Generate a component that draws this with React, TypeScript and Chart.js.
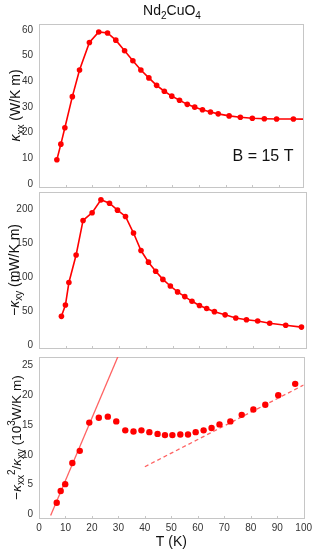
import React, { useEffect, useRef } from 'react';
import { Chart, registerables } from 'chart.js';

Chart.register(...registerables);

const FONT = '"Liberation Sans", Arial, Helvetica, sans-serif';

// ---- data ----
const xTicks = [0, 10, 20, 30, 40, 50, 60, 70, 80, 90, 100];

const kxxT = [6.7, 8.2, 9.7, 12.5, 15.2, 18.9, 22.4, 25.7, 28.8, 32.1, 35.2, 38.2, 41.2, 44.1, 47.0, 49.8, 52.7, 55.6, 58.4, 61.3, 64.3, 67.2, 71.3, 75.5, 80.0, 84.5, 89.1, 95.4, 101];
const kxx = [9.4, 15.5, 21.9, 34.0, 44.4, 55.1, 59.2, 58.8, 56.0, 51.9, 48.0, 44.4, 41.3, 38.4, 36.1, 34.2, 32.6, 31.0, 29.9, 28.9, 28.0, 27.3, 26.5, 26.0, 25.6, 25.4, 25.3, 25.3, 25.2];
const kxxTicks = [0, 10, 20, 30, 40, 50, 60];

const kxyT = [8.4, 9.9, 11.2, 13.9, 16.5, 19.9, 23.2, 26.4, 29.4, 32.4, 35.4, 38.2, 41.0, 43.7, 46.4, 49.2, 51.9, 54.6, 57.3, 60.1, 62.8, 65.7, 69.7, 73.7, 77.7, 81.9, 86.4, 92.4, 98.3];
const kxy = [43.1, 59.7, 92.8, 133.3, 184.0, 195.4, 214.3, 209.3, 199.1, 189.9, 165.5, 139.8, 122.7, 109.4, 97.4, 87.7, 79.0, 72.1, 65.2, 59.1, 54.6, 50.0, 45.3, 40.7, 38.0, 36.2, 32.9, 30.1, 27.3];
const kxyTicks = [0, 50, 100, 150, 200];

const ratioT = [6.7, 8.2, 9.9, 12.6, 15.4, 19.0, 22.6, 26.0, 29.2, 32.6, 35.7, 38.7, 41.7, 44.8, 47.6, 50.4, 53.4, 56.3, 59.2, 62.2, 65.2, 68.2, 72.3, 76.6, 81.0, 85.5, 90.4, 96.8];
const ratio = [1.97, 3.93, 5.08, 8.62, 10.66, 15.4, 16.2, 16.4, 15.6, 14.1, 13.9, 14.1, 13.8, 13.5, 13.3, 13.3, 13.4, 13.4, 13.8, 14.1, 14.5, 15.1, 15.6, 16.7, 17.6, 18.4, 20.0, 21.9];
const ratioTicks = [0, 5, 10, 15, 20, 25];

const lowFitT = [4.4, 31];
const lowFit = [-0.2, 27.7];
const highFitT = [40, 100];
const highFit = [8.0, 21.7];

const titleText = [{ t: 'Nd' }, { t: '2', k: 'sub' }, { t: 'CuO' }, { t: '4', k: 'sub' }];
const fieldText = 'B = 15 T';
const fieldPos = { x: 84, y: 10.5 };
const xTitle = 'T (K)';
const yTitleTop = [{ t: 'κ', it: true }, { t: 'xx', k: 'sub' }, { t: ' (W/K m)' }];
const yTitleMid = [{ t: '−' }, { t: 'κ', it: true }, { t: 'xy', k: 'sub' }, { t: ' (mW/K m)' }];
const yTitleBot = [
  { t: '−' }, { t: 'κ', it: true }, { t: 'xx', k: 'sub' }, { t: '2', k: 'sup' }, { t: '/' },
  { t: 'κ', it: true }, { t: 'xy', k: 'sub' }, { t: ' (10' }, { t: '3', k: 'sup' }, { t: 'W/K m)' },
];

type Seg = { t: string; k?: string; it?: boolean };

function drawRich(ctx: CanvasRenderingContext2D, segs: Seg[], size: number, color: string) {
  const small = Math.round(size * 0.72);
  const fontFor = (s: Seg) => `${s.it ? 'italic ' : ''}${s.k ? small : size}px ${FONT}`;
  const widths = segs.map((s) => {
    ctx.font = fontFor(s);
    return ctx.measureText(s.t).width;
  });
  const total = widths.reduce((a, b) => a + b, 0);
  let x = -total / 2;
  ctx.fillStyle = color;
  ctx.textAlign = 'left';
  ctx.textBaseline = 'alphabetic';
  segs.forEach((s, i) => {
    ctx.font = fontFor(s);
    const dy = s.k === 'sub' ? size * 0.25 : s.k === 'sup' ? -size * 0.42 : 0;
    ctx.fillText(s.t, x, dy);
    x += widths[i];
  });
}

const pts = (xs: number[], ys: number[]) => xs.map((x, i) => ({ x, y: ys[i] }));

type Cfg = {
  datasets: any[];
  xMax: number;
  yMin: number;
  yMax: number;
  yTicks: number[];
  padTop: number;
  padRight: number;
  xAxisH: number;
  showX: boolean;
  yTitle: Seg[];
  yTitleSize: number;
  yTitleX: number;
  extra?: (chart: any) => void;
};

function makeChart(canvas: HTMLCanvasElement, c: Cfg) {
  const tickFont = { family: FONT, size: 10 };
  const framePlugin = {
    id: 'frame',
    beforeDatasetsDraw(chart: any) {
      const { ctx, chartArea: a } = chart;
      const xs = chart.scales.x;
      ctx.save();
      ctx.strokeStyle = '#c6c6c6';
      ctx.lineWidth = 1;
      ctx.strokeRect(Math.round(a.left) + 0.5, Math.round(a.top) + 0.5, Math.round(a.right - a.left), Math.round(a.bottom - a.top));
      ctx.beginPath();
      xTicks.forEach((v) => {
        if (v <= 0 || v >= c.xMax) return;
        const px = Math.round(xs.getPixelForValue(v)) + 0.5;
        ctx.moveTo(px, Math.round(a.bottom) + 0.5);
        ctx.lineTo(px, Math.round(a.bottom) - 2);
      });
      ctx.stroke();
      ctx.restore();
    },
    afterDraw(chart: any) {
      const { ctx, chartArea: a } = chart;
      ctx.save();
      ctx.translate(c.yTitleX, (a.top + a.bottom) / 2);
      ctx.rotate(-Math.PI / 2);
      drawRich(ctx, c.yTitle, c.yTitleSize, '#111');
      ctx.restore();
      if (c.extra) c.extra(chart);
    },
  };
  return new Chart(canvas, {
    type: 'scatter',
    data: { datasets: c.datasets },
    options: {
      animation: false,
      responsive: false,
      devicePixelRatio: 1,
      events: [],
      layout: { padding: { left: 0, right: c.padRight, top: c.padTop, bottom: 0 } },
      plugins: { legend: { display: false }, tooltip: { enabled: false } },
      scales: {
        x: {
          type: 'linear',
          min: 0,
          max: c.xMax,
          grid: { display: false, drawTicks: false },
          border: { display: false },
          ticks: { display: c.showX, font: tickFont, color: '#333', padding: 4, maxRotation: 0, autoSkip: false },
          afterBuildTicks: (s: any) => { s.ticks = xTicks.filter((v) => v <= c.xMax).map((v) => ({ value: v })); },
          afterFit: (s: any) => { s.height = c.xAxisH; },
        },
        y: {
          type: 'linear',
          min: c.yMin,
          max: c.yMax,
          grid: { display: false, drawTicks: false },
          border: { display: false },
          ticks: { font: tickFont, color: '#333', padding: 6 },
          afterBuildTicks: (s: any) => { s.ticks = c.yTicks.map((v) => ({ value: v })); },
          afterFit: (s: any) => { s.width = 39; },
        },
      },
    } as any,
    plugins: [framePlugin],
  });
}

const RED = '#ff0000';
const FIT = '#ff6363';

export default function App() {
  const r1 = useRef<HTMLCanvasElement>(null);
  const r2 = useRef<HTMLCanvasElement>(null);
  const r3 = useRef<HTMLCanvasElement>(null);

  useEffect(() => {
    const lineSet = (xs: number[], ys: number[], r: number) => ({
      data: pts(xs, ys),
      showLine: true,
      borderColor: RED,
      borderWidth: 1.6,
      backgroundColor: RED,
      pointRadius: r,
      pointBorderWidth: 0,
      pointBackgroundColor: RED,
      clip: 0,
    });

    const c1 = makeChart(r1.current!, {
      datasets: [lineSet(kxxT, kxx, 2.8)],
      xMax: 99,
      yMin: -1.2,
      yMax: 62.3,
      yTicks: kxxTicks,
      padTop: 24,
      padRight: 13,
      xAxisH: 13,
      showX: false,
      yTitle: yTitleTop,
      yTitleSize: 14,
      yTitleX: 20,
      extra: (chart: any) => {
        const { ctx, scales } = chart;
        ctx.save();
        ctx.translate(172, 15);
        drawRich(ctx, titleText, 14, '#111');
        ctx.restore();
        ctx.save();
        ctx.font = `16px ${FONT}`;
        ctx.fillStyle = '#111';
        ctx.textAlign = 'center';
        ctx.textBaseline = 'middle';
        ctx.fillText(fieldText, scales.x.getPixelForValue(fieldPos.x), scales.y.getPixelForValue(fieldPos.y));
        ctx.restore();
      },
    });

    const c2 = makeChart(r2.current!, {
      datasets: [lineSet(kxyT, kxy, 2.8)],
      xMax: 100,
      yMin: -3.4,
      yMax: 225.8,
      yTicks: kxyTicks,
      padTop: 7,
      padRight: 10,
      xAxisH: 7,
      showX: false,
      yTitle: yTitleMid,
      yTitleSize: 14,
      yTitleX: 18.5,
    });

    const c3 = makeChart(r3.current!, {
      datasets: [
        {
          data: pts(ratioT, ratio),
          showLine: false,
          pointRadius: 3.2,
          pointBorderWidth: 0,
          pointBackgroundColor: RED,
          backgroundColor: RED,
          borderColor: RED,
        },
        {
          data: pts(lowFitT, lowFit),
          showLine: true,
          borderColor: FIT,
          borderWidth: 1.3,
          pointRadius: 0,
          clip: 0,
        },
        {
          data: pts(highFitT, highFit),
          showLine: true,
          borderColor: FIT,
          borderWidth: 1.3,
          borderDash: [4, 3],
          pointRadius: 0,
          clip: 0,
        },
      ],
      xMax: 100,
      yMin: -0.6,
      yMax: 26.4,
      yTicks: ratioTicks,
      padTop: 8,
      padRight: 10,
      xAxisH: 40,
      showX: true,
      yTitle: yTitleBot,
      yTitleSize: 13.5,
      yTitleX: 20.5,
      extra: (chart: any) => {
        const { ctx, chartArea: a } = chart;
        ctx.save();
        ctx.font = `14px ${FONT}`;
        ctx.fillStyle = '#111';
        ctx.textAlign = 'center';
        ctx.textBaseline = 'middle';
        ctx.fillText(xTitle, (a.left + a.right) / 2, 196.7);
        ctx.restore();
      },
    });

    return () => {
      c1.destroy();
      c2.destroy();
      c3.destroy();
    };
  }, []);

  const cs = (top: number, h: number): React.CSSProperties => ({
    position: 'absolute',
    left: 0,
    top,
    width: 316,
    height: h,
    display: 'block',
  });

  return (
    <div style={{ position: 'absolute', left: 0, top: 0, width: 316, height: 558, background: '#fff', overflow: 'hidden' }}>
      <canvas ref={r1} width={316} height={200} style={cs(0, 200)} />
      <canvas ref={r2} width={316} height={180} style={cs(180, 180)} />
      <canvas ref={r3} width={316} height={213} style={cs(345, 213)} />
    </div>
  );
}
